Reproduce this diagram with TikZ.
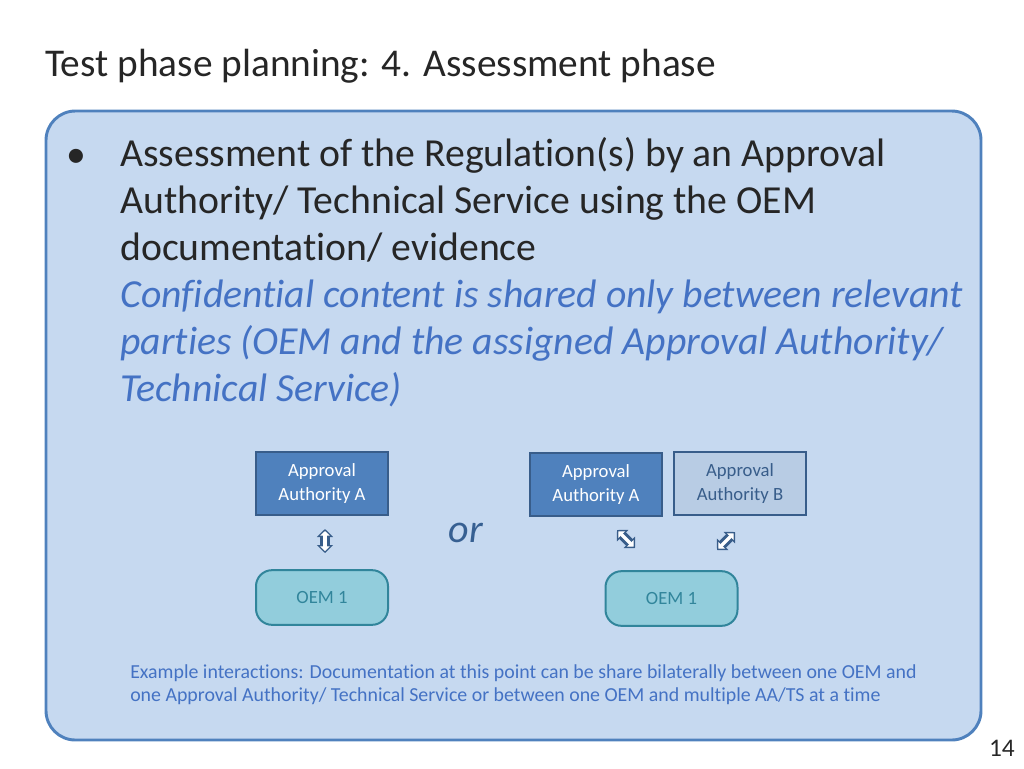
\documentclass[tikz,border=0pt]{standalone}
\usepackage{fontspec}
\setmainfont{Carlito}[Ligatures=NoCommon]
\usetikzlibrary{arrows.meta}
\definecolor{panelblue}{RGB}{198,217,240}
\definecolor{edgeblue}{RGB}{79,129,189}
\definecolor{darkedge}{RGB}{56,93,138}
\definecolor{paleblue}{RGB}{184,204,228}
\definecolor{oemfill}{RGB}{146,205,220}
\definecolor{oemedge}{RGB}{49,133,155}
\definecolor{notetext}{RGB}{68,114,196}
\definecolor{italtext}{RGB}{55,96,146}
\definecolor{bodytext}{RGB}{38,38,38}

\tikzset{
  aabox/.style={draw=darkedge,line width=1.5pt,minimum width=99pt,minimum height=47pt,align=center,font=\fontsize{14}{18}\selectfont},
  oembox/.style={draw=oemedge,fill=oemfill,text=oemedge,line width=1.5pt,rounded corners=12pt,minimum width=99pt,minimum height=41pt,font=\fontsize{14}{16}\selectfont},
  linkout/.style={{Triangle[length=6pt,width=12pt]}-{Triangle[length=6pt,width=12pt]},darkedge,line width=7pt},
  linkin/.style={{Triangle[length=3.5pt,width=7pt]}-{Triangle[length=3.5pt,width=7pt]},white,line width=2.5pt,shorten <=1.5pt,shorten >=1.5pt}
}

\begin{document}
\begin{tikzpicture}[x=0.75pt,y=-0.75pt]
\useasboundingbox (0,0) rectangle (1024,768);

%% title and page number
\node [anchor=base west,inner sep=0,font=\fontsize{29.5}{34}\selectfont,text=bodytext] (title) at (45,76) {Test phase planning: 4. Assessment phase};
\node [anchor=base east,inner sep=0,font=\fontsize{19}{22}\selectfont,text=bodytext] (page) at (1015,756) {14};

%% panel
\draw [edgeblue,fill=panelblue,line width=2.2pt,rounded corners=22pt] (46,111) rectangle (981,740);

%% bullet text
\node [anchor=base west,inner sep=0,font=\fontsize{29.8}{35.3}\selectfont,text=bodytext] (bullet) at (66,167) {•};
\node [anchor=north west,inner sep=0,align=left,font=\fontsize{29.8}{35.3}\selectfont,text=bodytext] (body) at (120,137)
  {Assessment of the Regulation(s) by an Approval\\
   Authority/ Technical Service using the OEM\\
   documentation/ evidence\\
   \color{notetext}\itshape Confidential content is shared only between relevant\\
   \color{notetext}\itshape parties (OEM and the assigned Approval Authority/\\
   \color{notetext}\itshape Technical Service)};

%% left case
\node [aabox,fill=edgeblue,text=white] (aaA) at (322,483.5) {Approval\\Authority A};
\node [oembox] (oemL) at (322,597.5) {OEM 1};
\coordinate (upL) at (325,529);
\coordinate (dnL) at (325,553);
\draw [linkout] (upL) -- (dnL);
\draw [linkin] (upL) -- (dnL);

\node [font=\fontsize{30}{34}\itshape\selectfont,text=italtext] (or) at (466,533) {or};

%% right case
\node [aabox,fill=edgeblue,text=white] (aaA2) at (596,484.5) {Approval\\Authority A};
\node [aabox,fill=paleblue,text=darkedge] (aaB) at (740,483.5) {Approval\\Authority B};
\node [oembox] (oemR) at (671.5,598.5) {OEM 1};
\coordinate (ua) at (617,530);
\coordinate (da) at (635,548);
\draw [linkout] (ua) -- (da);
\draw [linkin] (ua) -- (da);
\coordinate (ub) at (735,532);
\coordinate (db) at (717,550);
\draw [linkout] (ub) -- (db);
\draw [linkin] (ub) -- (db);

%% note
\node [anchor=north west,inner sep=0,align=left,font=\fontsize{14.9}{17.5}\selectfont,text=notetext] (note) at (130,664)
  {Example interactions: Documentation at this point can be share bilaterally between one OEM and\\
   one Approval Authority/ Technical Service or between one OEM and multiple AA/TS at a time};
\end{tikzpicture}
\end{document}
